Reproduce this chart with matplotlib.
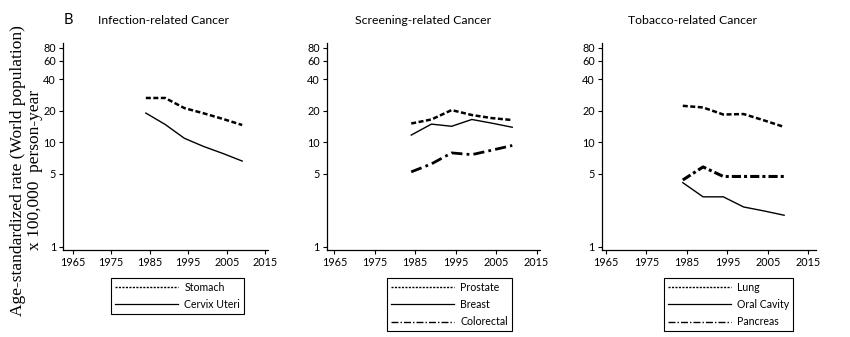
import matplotlib
matplotlib.use('Agg')
import matplotlib.pyplot as plt
from matplotlib.lines import Line2D
from matplotlib.ticker import FixedLocator, NullLocator

plt.rcParams['font.family'] = ['Lato', 'DejaVu Sans']

years = [1984, 1989, 1994, 1999, 2004, 2009]

# infection-related
stomach = [26.5, 26.5, 21.2, 18.9, 16.7, 14.6]
cervix = [19.0, 14.8, 10.9, 9.1, 7.8, 6.6]
# screening-related
prostate = [15.1, 16.5, 20.3, 18.2, 17.0, 16.3]
breast = [11.7, 14.9, 14.2, 16.5, 15.2, 13.9]
colorectal = [5.2, 6.2, 7.9, 7.6, 8.4, 9.3]
# tobacco-related
lung = [22.3, 21.5, 18.4, 18.6, 16.2, 14.0]
oral = [4.1, 3.0, 3.0, 2.4, 2.2, 2.0]
pancreas = [4.35, 5.8, 4.7, 4.7, 4.7, 4.7]

xticks = [1965, 1975, 1985, 1995, 2005, 2015]
yticks = [1, 5, 10, 20, 40, 60, 80]

dotted = dict(color='black', lw=1.8, linestyle=(0, (2, 1)))
solid = dict(color='black', lw=1.0, linestyle='-')
dashdot = dict(color='black', lw=2.0, linestyle=(0, (4, 1.5, 1, 1.5)))
dashdot2 = dict(color='black', lw=2.2, linestyle=(0, (3, 1, 1, 1)))

# thinner versions for the legend keys
leg_styles = {
    id(dotted): dict(color='black', lw=1.0, linestyle=(0, (1.5, 1))),
    id(solid): dict(color='black', lw=0.9, linestyle='-'),
    id(dashdot): dict(color='black', lw=1.0, linestyle=(0, (5, 1.5, 1, 1.5))),
    id(dashdot2): dict(color='black', lw=1.0, linestyle=(0, (5, 1.5, 1, 1.5))),
}

fig = plt.figure(figsize=(8.5, 3.37), dpi=100)

panels = [
    ([0.0741, 0.2582, 0.2412, 0.6142], (1962.5, 2015.7), 'Infection-related Cancer', 0.192,
     [(stomach, 'Stomach', dotted), (cervix, 'Cervix Uteri', solid)], (0.1306, 0.175)),
    ([0.3844, 0.2582, 0.2506, 0.6142], (1963.1, 2015.8), 'Screening-related Cancer', 0.498,
     [(prostate, 'Prostate', dotted), (breast, 'Breast', solid), (colorectal, 'Colorectal', dashdot)], (0.4553, 0.175)),
    ([0.7079, 0.2582, 0.2518, 0.6142], (1964.0, 2016.8), 'Tobacco-related Cancer', 0.815,
     [(lung, 'Lung', dotted), (oral, 'Oral Cavity', solid), (pancreas, 'Pancreas', dashdot2)], (0.7812, 0.175)),
]

for pos, xl, title, tx, series, legpos in panels:
    ax = fig.add_axes(pos)
    handles = []
    for vals, lab, st in series:
        ax.plot(years, vals, **st)
        handles.append(Line2D([], [], label=lab, **leg_styles[id(st)]))
    ax.set_yscale('log')
    ax.set_ylim(0.93, 89)
    ax.set_xlim(*xl)
    ax.yaxis.set_major_locator(FixedLocator(yticks))
    ax.yaxis.set_minor_locator(NullLocator())
    ax.set_yticklabels([str(v) for v in yticks])
    ax.set_xticks(xticks)
    ax.set_xticklabels([str(v) for v in xticks])
    for s in ['top', 'right']:
        ax.spines[s].set_visible(False)
    for s in ['left', 'bottom']:
        ax.spines[s].set_linewidth(0.9)
    ax.tick_params(axis='both', labelsize=7.8, length=3, width=0.8, pad=2)
    fig.text(tx, 0.94, title, ha='center', va='center', fontsize=8.8)
    leg = ax.legend(handles=handles, loc='upper left', bbox_to_anchor=legpos,
                    bbox_transform=fig.transFigure,
                    fontsize=7.6, handlelength=6.0, fancybox=False, edgecolor='black',
                    framealpha=1, borderpad=0.35, labelspacing=0.6, handletextpad=0.6,
                    borderaxespad=0)
    leg.get_frame().set_linewidth(0.8)

fig.text(0.08, 0.94, 'B', ha='center', va='center', fontsize=10.5)
fig.text(0.031, 0.495, 'Age-standardized rate (World population)\nx 100,000  person-year',
         rotation=90, ha='center', va='center', multialignment='center',
         family=['Liberation Serif'], fontsize=12.5, linespacing=1.05)

fig.savefig('out.png', dpi=100)
